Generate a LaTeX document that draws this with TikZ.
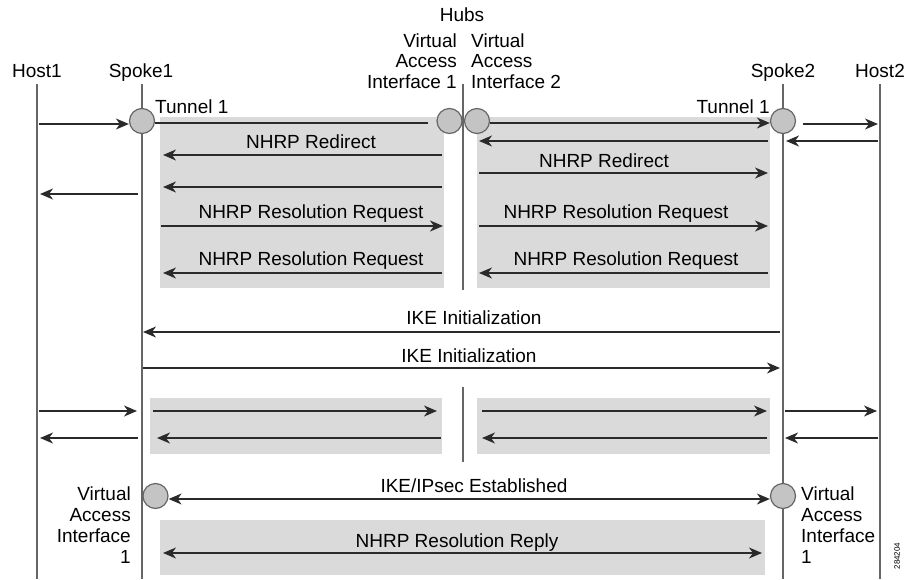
\documentclass[tikz,border=0pt]{standalone}
\usepackage{fontspec}
\setmainfont{Liberation Sans}
\usetikzlibrary{arrows.meta}
\definecolor{boxgray}{HTML}{DADADA}
\definecolor{circgray}{HTML}{C4C4C4}
\definecolor{linegray}{HTML}{666666}
\definecolor{arrcol}{HTML}{2A2A2A}
\tikzset{
  lifeline/.style={draw=linegray, line width=1.6pt},
  iface/.style={circle, draw=linegray, fill=circgray, line width=1.2pt, minimum size=25pt, inner sep=0pt},
  tip/.tip={Stealth[length=13pt,width=11pt,inset=4pt]},
  msg/.style={draw=arrcol, line width=1.3pt, -tip},
  dmsg/.style={draw=arrcol, line width=1.3pt, tip-tip},
  plain/.style={draw=arrcol, line width=1.3pt},
  lbl/.style={font=\fontsize{19}{20.5}\selectfont, inner sep=0pt, anchor=base, text=black},
  lbl4/.style={font=\fontsize{19}{21}\selectfont, inner sep=0pt, text=black},
}
\begin{document}
\begin{tikzpicture}[x=1pt,y=-1pt]
\useasboundingbox (0,0) rectangle (906,579);
% shaded boxes
\fill[boxgray] (160,117) rectangle (444,288);
\fill[boxgray] (477,117) rectangle (770,288);
\fill[boxgray] (150,398) rectangle (442,454);
\fill[boxgray] (477,398) rectangle (770,454);
\fill[boxgray] (160,520) rectangle (765,575);
% lifelines
\draw[lifeline] (37,84) -- (37,579);
\draw[lifeline] (142,84) -- (142,579);
\draw[lifeline] (463,84) -- (463,290);
\draw[lifeline] (463,387) -- (463,462);
\draw[lifeline] (783,84) -- (783,579);
\draw[lifeline] (880,84) -- (880,579);
% headers
\node[lbl] (host1) at (37,77) {Host1};
\node[lbl] (spoke1) at (141,77) {Spoke1};
\node[lbl] (hubs) at (462,21) {Hubs};
\node[lbl, anchor=base east, align=right] (vai1) at (457,88) {Virtual\\Access\\Interface 1};
\node[lbl, anchor=base west, align=left] (vai2) at (471,88) {Virtual\\Access\\Interface 2};
\node[lbl] (spoke2) at (783,77) {Spoke2};
\node[lbl] (host2) at (880,77) {Host2};
\node[lbl, anchor=base west] (tun1) at (155,113) {Tunnel 1};
\node[lbl, anchor=base east] (tun2) at (770,113) {Tunnel 1};
% interface circles
\node[iface] (c1) at (142,121) {};
\node[iface] (c2) at (449.5,121) {};
\node[iface] (c3) at (477,121) {};
\node[iface] (c4) at (783,121) {};
\node[iface] (c5) at (155.5,496) {};
\node[iface] (c6) at (783,496) {};
% top section
\draw[msg] (39,124) -- (c1.west |- 0,124);
\draw[plain] (c1.east |- 0,123) -- (428,123);
\draw[msg] (c3.east |- 0,123) -- (c4.west |- 0,123);
\draw[msg] (803,124) -- (878,124);
\draw[msg] (878,141) -- (786,141);
\draw[msg] (768,141) -- (479,141);
\node[lbl] (r1) at (311,148) {NHRP Redirect};
\draw[msg] (442,155) -- (163,155);
\draw[msg] (442,187) -- (163,187);
\draw[msg] (138,194) -- (40,194);
\node[lbl] (r2) at (604,167) {NHRP Redirect};
\draw[msg] (479,173) -- (768,173);
\node[lbl] (q1) at (311,218) {NHRP Resolution Request};
\draw[msg] (161,226) -- (443,226);
\node[lbl] (q2) at (616,218) {NHRP Resolution Request};
\draw[msg] (479,226) -- (768,226);
\node[lbl] (q3) at (311,265) {NHRP Resolution Request};
\draw[msg] (442,273) -- (163,273);
\node[lbl] (q4) at (626,265) {NHRP Resolution Request};
\draw[msg] (768,273) -- (479,273);
% IKE
\node[lbl] (ike1) at (474,324) {IKE Initialization};
\draw[msg] (780,332) -- (143,332);
\node[lbl] (ike2) at (469,362) {IKE Initialization};
\draw[msg] (143,368) -- (780,368);
% data
\draw[msg] (39,411) -- (137,411);
\draw[msg] (138,438) -- (40,438);
\draw[msg] (153,411) -- (437,411);
\draw[msg] (441,438) -- (157,438);
\draw[msg] (482,411) -- (767,411);
\draw[msg] (767,438) -- (482,438);
\draw[msg] (785,411) -- (877,411);
\draw[msg] (878,438) -- (785,438);
% bottom
\node[lbl] (est) at (474,492) {IKE/IPsec Established};
\draw[dmsg] (c5.east |- 0,499) -- (c6.west |- 0,499);
\node[lbl] (rep) at (457,547) {NHRP Resolution Reply};
\draw[dmsg] (163,553) -- (762,553);
\node[lbl4, anchor=base east, align=right] (vai3) at (131,563) {Virtual\\Access\\Interface\\1};
\node[lbl4, anchor=base west, align=left] (vai4) at (801,563) {Virtual\\Access\\Interface\\1};
\node[font=\fontsize{8}{9}\selectfont, rotate=90, inner sep=0pt] (fig) at (897,556) {284204};
\end{tikzpicture}
\end{document}
